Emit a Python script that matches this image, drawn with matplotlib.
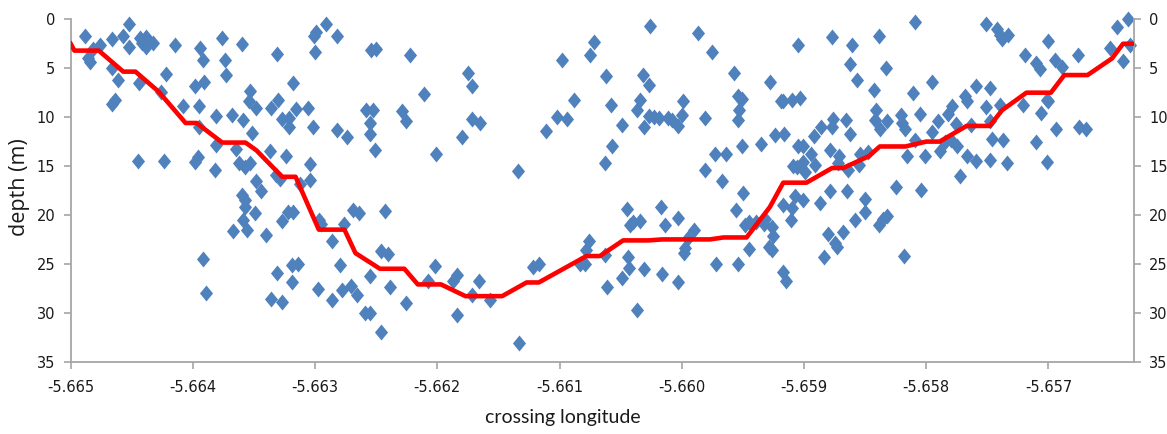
import matplotlib
matplotlib.use("Agg")
import matplotlib.pyplot as plt
from matplotlib.path import Path

# sounding points: crossing longitude and depth (m)
lon = [
    -5.66488, -5.66482, -5.66486, -5.66484, -5.66476, -5.66466, -5.66457, -5.66452, -5.66452, -5.66443,
    -5.66442, -5.66438, -5.66438, -5.66436, -5.66433, -5.66415, -5.66394, -5.66392, -5.66376, -5.66374,
    -5.66373, -5.66466, -5.66461, -5.66444, -5.66422, -5.66426, -5.66466, -5.66464, -5.66408, -5.66398,
    -5.66391, -5.66395, -5.66395, -5.66381, -5.66368, -5.66381, -5.66365, -5.66362, -5.66445, -5.66424,
    -5.66398, -5.66396, -5.66382, -5.66367, -5.66392, -5.66389,
    -5.66360, -5.66331, -5.66299, -5.66301, -5.66291, -5.66282, -5.66300, -5.66254, -5.66250, -5.66222,
    -5.66318, -5.66353, -5.66354, -5.66348, -5.66336, -5.66330, -5.66316, -5.66327, -5.66321, -5.66321,
    -5.66306, -5.66302, -5.66359, -5.66352, -5.66282, -5.66274, -5.66258, -5.66253, -5.66255, -5.66255,
    -5.66251, -5.66229, -5.66226, -5.66337, -5.66324, -5.66304, -5.66357, -5.66353, -5.66332, -5.66329,
    -5.66312, -5.66304, -5.66348, -5.66344, -5.66360, -5.66357, -5.66357, -5.66349, -5.66359, -5.66356,
    -5.66340, -5.66327, -5.66322, -5.66318, -5.66297, -5.66295, -5.66286, -5.66276, -5.66269, -5.66264,
    -5.66243, -5.66246, -5.66240, -5.66280, -5.66319, -5.66314, -5.66331, -5.66319, -5.66255, -5.66239,
    -5.66298, -5.66336, -5.66327, -5.66286, -5.66278, -5.66271, -5.66266, -5.66259, -5.66255, -5.66246,
    -5.66226,
    -5.66211, -5.66201, -5.66175, -5.66172, -5.66180, -5.66172, -5.66165, -5.66134, -5.66111, -5.66102,
    -5.66094, -5.66088, -5.66098, -5.66075, -5.66072, -5.66208, -5.66202, -5.66187, -5.66184, -5.66184,
    -5.66172, -5.66166, -5.66157, -5.66133, -5.66122, -5.66117, -5.66083, -5.66079, -5.66078, -5.66076,
    -5.66062, -5.66058, -5.66063, -5.66057, -5.66049, -5.66026, -5.66032, -5.66027, -5.66034, -5.66037,
    -5.66027, -5.66023, -5.66019, -5.66031, -5.66011, -5.66008, -5.66003, -5.66000, -5.65999, -5.65987,
    -5.65975, -5.65981, -5.65957, -5.65954, -5.65951, -5.65953, -5.65954, -5.65951, -5.65973, -5.65964,
    -5.65981, -5.65967, -5.65950, -5.65956, -5.65928, -5.65919, -5.65935, -5.65924, -5.66045, -5.66042,
    -5.66040, -5.66034, -5.66017, -5.66014, -5.66003, -5.65990, -5.65995, -5.65997, -5.65998, -5.66063,
    -5.66061, -5.66044, -5.66043, -5.66049, -5.66031, -5.66037, -5.66016, -5.66003, -5.65972, -5.65954,
    -5.65945, -5.65948, -5.65945, -5.65939, -5.65933, -5.65932, -5.65926, -5.65925, -5.65929, -5.65926,
    -5.65905, -5.65877, -5.65861, -5.65862, -5.65857, -5.65839, -5.65833, -5.65843, -5.65809, -5.65811,
    -5.65795, -5.65917, -5.65910, -5.65903, -5.65916, -5.65905, -5.65901, -5.65892, -5.65886, -5.65876,
    -5.65877, -5.65866, -5.65862, -5.65841, -5.65842, -5.65838, -5.65832, -5.65821, -5.65820, -5.65817,
    -5.65805, -5.65795, -5.65790, -5.65782, -5.65779, -5.65776, -5.65879, -5.65871, -5.65894, -5.65891,
    -5.65901, -5.65909, -5.65906, -5.65899, -5.65872, -5.65864, -5.65854, -5.65848, -5.65855, -5.65816,
    -5.65801, -5.65809, -5.65789, -5.65785, -5.65780, -5.65775, -5.65772, -5.65917, -5.65910, -5.65907,
    -5.65901, -5.65911, -5.65887, -5.65879, -5.65865, -5.65850, -5.65850, -5.65858, -5.65825, -5.65804,
    -5.65880, -5.65875, -5.65873, -5.65868, -5.65839, -5.65835, -5.65832, -5.65884, -5.65818, -5.65917,
    -5.65915,
    -5.65751, -5.65742, -5.65740, -5.65738, -5.65733, -5.65700, -5.65719, -5.65710, -5.65707, -5.65695,
    -5.65689, -5.65676, -5.65650, -5.65644, -5.65635, -5.65639, -5.65633, -5.65768, -5.65767, -5.65759,
    -5.65748, -5.65751, -5.65740, -5.65748, -5.65763, -5.65746, -5.65737, -5.65721, -5.65706, -5.65701,
    -5.65700, -5.65694, -5.65675, -5.65669, -5.65710, -5.65767, -5.65759, -5.65748, -5.65734, -5.65701,
]
depth = [
    1.7, 3.0, 4.0, 4.4, 2.6, 2.0, 1.7, 2.8, 0.5, 1.9,
    2.4, 1.8, 2.8, 2.3, 2.4, 2.6, 2.9, 4.2, 1.9, 4.2,
    5.7, 5.0, 6.2, 6.5, 5.6, 7.4, 8.7, 8.3, 8.9, 6.8,
    6.4, 8.9, 11.0, 9.9, 9.8, 12.9, 13.3, 14.7, 14.5, 14.5,
    14.6, 14.1, 15.4, 21.6, 24.5, 28.0,
    2.5, 3.5, 1.3, 1.7, 0.5, 1.7, 3.3, 3.1, 3.0, 3.7,
    6.5, 7.3, 8.4, 9.1, 9.1, 8.3, 9.2, 10.2, 10.1, 11.0,
    9.1, 11.0, 10.3, 11.6, 11.3, 12.0, 9.3, 9.3, 10.6, 11.7,
    13.4, 9.4, 10.4, 13.5, 14.0, 14.8, 15.1, 14.7, 15.9, 16.3,
    16.8, 16.4, 16.5, 17.6, 18.0, 18.5, 19.2, 19.8, 20.5, 21.5,
    22.0, 20.6, 19.7, 19.7, 20.5, 20.9, 22.7, 20.9, 19.5, 19.8,
    19.6, 23.7, 24.0, 25.1, 25.1, 25.0, 25.9, 26.9, 26.2, 27.4,
    27.6, 28.6, 28.9, 28.7, 27.7, 27.3, 28.2, 30.0, 30.0, 32.0,
    29.0,
    7.6, 13.8, 5.5, 6.8, 12.0, 10.2, 10.6, 15.5, 11.4, 10.0,
    10.2, 8.2, 4.2, 3.7, 2.3, 26.7, 25.2, 26.8, 26.1, 30.2,
    28.2, 26.8, 28.7, 33.1, 25.3, 25.0, 25.0, 25.0, 23.6, 22.7,
    5.8, 8.8, 14.7, 13.0, 10.8, 0.7, 5.7, 6.7, 8.3, 9.3,
    9.9, 10.0, 10.1, 11.0, 10.1, 10.3, 10.9, 9.8, 8.4, 1.4,
    3.3, 10.1, 5.5, 7.8, 8.1, 9.3, 10.3, 13.0, 13.8, 13.8,
    15.4, 16.5, 17.8, 19.5, 6.4, 8.4, 12.7, 11.8, 19.4, 21.0,
    20.7, 20.6, 19.2, 21.0, 20.3, 21.5, 22.4, 23.4, 23.9, 24.1,
    27.4, 24.3, 25.4, 26.4, 25.5, 29.7, 26.0, 26.9, 25.0, 25.0,
    23.5, 21.0, 20.7, 20.7, 20.9, 20.4, 21.2, 22.1, 23.3, 23.6,
    2.6, 1.8, 2.6, 4.6, 6.2, 1.7, 5.0, 7.2, 0.3, 7.5,
    6.4, 8.4, 8.2, 8.0, 11.7, 13.0, 13.0, 11.9, 11.0, 10.2,
    11.0, 10.3, 11.7, 9.3, 10.3, 11.2, 10.4, 9.8, 10.6, 11.2,
    9.7, 11.5, 10.4, 9.7, 8.9, 10.7, 13.4, 14.0, 13.8, 14.9,
    14.6, 15.0, 15.1, 15.6, 14.7, 15.4, 13.8, 13.6, 14.9, 14.0,
    14.0, 12.3, 13.5, 12.5, 12.3, 13.0, 16.0, 19.0, 19.3, 18.1,
    18.5, 20.5, 18.8, 17.6, 17.6, 18.4, 19.7, 20.5, 17.1, 17.5,
    21.9, 22.9, 23.3, 21.7, 21.0, 20.4, 20.1, 24.3, 24.2, 25.8,
    26.8,
    0.5, 1.0, 1.6, 2.0, 1.6, 2.2, 3.6, 4.5, 5.1, 4.2,
    4.9, 3.7, 2.9, 0.8, 0.0, 4.3, 2.6, 7.8, 8.4, 6.8,
    7.0, 9.0, 8.8, 10.4, 10.8, 12.2, 12.3, 8.8, 9.6, 8.3,
    8.4, 11.2, 11.0, 11.2, 12.5, 14.0, 14.5, 14.4, 14.7, 14.6,
]

# binned depth profile across the channel
profile_lon = [
    -5.66500, -5.66497, -5.66477, -5.66457, -5.66447, -5.66428, -5.66406, -5.66397, -5.66376, -5.66357,
    -5.66348, -5.66327, -5.66316, -5.66297, -5.66276, -5.66267, -5.66247, -5.66227, -5.66216, -5.66197,
    -5.66177, -5.66147, -5.66127, -5.66117, -5.66078, -5.66067, -5.66048, -5.66027, -5.66016, -5.65977,
    -5.65966, -5.65947, -5.65928, -5.65917, -5.65898, -5.65877, -5.65868, -5.65847, -5.65838, -5.65817,
    -5.65800, -5.65789, -5.65778, -5.65767, -5.65748, -5.65738, -5.65718, -5.65698, -5.65687, -5.65668,
    -5.65648, -5.65639, -5.65629,
]
profile_depth = [
    2.5, 3.2, 3.2, 5.35, 5.35, 7.4, 10.6, 10.6, 12.6, 12.6,
    13.4, 16.1, 16.1, 21.5, 21.5, 23.9, 25.5, 25.5, 27.1, 27.1,
    28.3, 28.3, 26.9, 26.9, 24.2, 24.2, 22.6, 22.6, 22.5, 22.5,
    22.3, 22.3, 19.2, 16.7, 16.7, 15.2, 15.2, 14.0, 13.0, 13.0,
    12.5, 12.5, 11.7, 10.9, 10.9, 9.3, 7.5, 7.5, 5.7, 5.7,
    4.0, 2.5, 2.5,
]

x_ticks = [-5.665, -5.664, -5.663, -5.662, -5.661, -5.660, -5.659, -5.658, -5.657]
y_ticks = [0, 5, 10, 15, 20, 25, 30, 35]

# slightly tall diamond, like the spreadsheet marker
diamond = Path([(0, 1), (0.82, 0), (0, -1), (-0.82, 0), (0, 1)],
               [Path.MOVETO, Path.LINETO, Path.LINETO, Path.LINETO, Path.CLOSEPOLY])

W, H = 1167, 434
fig = plt.figure(figsize=(W / 100, H / 100), dpi=100)
left, right, top, bottom = 70.7, 1134, 19.3, 361.7
ax = fig.add_axes([left / W, 1 - bottom / H, (right - left) / W, (bottom - top) / H])

ax.plot(lon, depth, linestyle="none", marker=diamond, ms=11.5, color="#4F81BD",
        markeredgewidth=0, clip_on=False, zorder=2)
ax.plot(profile_lon, profile_depth, color="#FF0000", lw=3.3, zorder=3)

ax.set_xlim(-5.665, -5.65630)
ax.set_ylim(35, 0)
ax.set_xticks(x_ticks)
ax.set_xticklabels([f"{t:.3f}" for t in x_ticks])
ax.set_yticks(y_ticks)

axis_grey = "#A6A6A6"
ax.spines["top"].set_visible(False)
for side in ("left", "right", "bottom"):
    ax.spines[side].set_color(axis_grey)
    ax.spines[side].set_linewidth(1.3)

tick_family = ["Liberation Sans Narrow", "DejaVu Sans"]
ax.tick_params(axis="both", direction="out", length=5, width=1.2, color=axis_grey,
               labelcolor="#1a1a1a")
ax.tick_params(axis="y", left=True, right=True, labelleft=True, labelright=True, pad=6)
ax.tick_params(axis="x", pad=8)
for t in ax.xaxis.get_major_ticks() + ax.yaxis.get_major_ticks():
    for lbl in (t.label1, t.label2):
        lbl.set_fontfamily(tick_family)
        lbl.set_fontsize(10.5)

fig.text(563 / W, 1 - 417 / H, "crossing longitude", ha="center", va="center",
         fontsize=14, family=["Lato", "DejaVu Sans"], color="#1a1a1a")
fig.text(20 / W, 1 - 187 / H, "depth (m)", ha="center", va="center", rotation=90,
         fontsize=15.5, family=["Open Sans", "DejaVu Sans"], color="#1a1a1a")

fig.savefig("out.png", dpi=100)
